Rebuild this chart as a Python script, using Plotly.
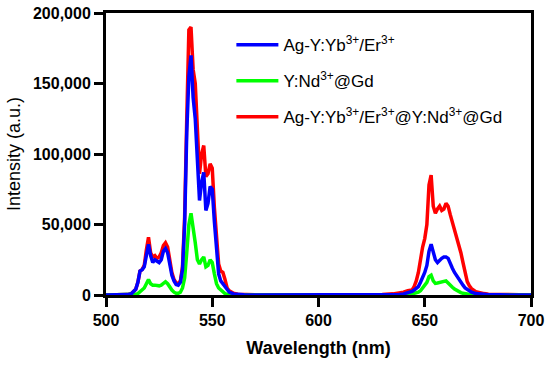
import plotly.graph_objects as go

wavelength = [500, 505, 510, 512, 514, 515, 516, 517, 518, 519, 520, 521, 522, 523, 524, 525,
              526, 527, 528, 529, 530, 531, 532, 533, 534, 535, 536, 537, 538, 539, 540, 541,
              542, 543, 544, 545, 546, 547, 548, 549, 550, 551, 552, 553, 554, 555, 556, 557,
              558, 560, 562, 565, 570, 580, 600, 620, 630, 635, 638, 640, 642, 644, 645, 646,
              647, 648, 649, 650, 651, 652, 653, 654, 655, 656, 657, 658, 659, 660, 661, 662,
              663, 664, 665, 666, 667, 668, 669, 670, 671, 672, 674, 676, 678, 680, 685, 690, 700]

# intensities in thousands (a.u.)
blue_k = [0, 0, 0.3, 1, 4, 9, 17, 18, 20, 28, 36, 28, 23, 25, 24, 23,
          25, 31, 33, 30, 22, 14, 10, 7.5, 7, 9, 18, 50, 115, 155, 170, 140,
          125, 95, 67, 80, 87, 60, 65, 77, 75, 52, 30, 15, 10, 8, 5, 3,
          2, 0.8, 0.4, 0.1, 0, 0, 0, 0, 0, 0.2, 0.4, 0.8, 1.5, 2.5, 3.5, 4.5,
          6, 9, 12, 16, 21, 31, 36, 31, 25, 23, 25, 26, 27, 27, 26, 22,
          19, 16, 13.5, 12, 9, 7, 5, 3.8, 2.8, 2, 1, 0.6, 0.3, 0.2, 0.1, 0, 0]

green_k = [0, 0, 0, 0.1, 0.5, 1, 2.5, 3.5, 5, 8, 11, 8, 7, 7, 6.5, 6.5,
           7, 8.5, 9.4, 8, 5.5, 3.5, 2, 1.2, 1.2, 2, 5, 12, 30, 50, 58, 45,
           37, 25, 22, 25, 27, 20, 21, 25, 23, 15, 8, 5, 3.5, 2.5, 1, 0.5,
           0.2, 0, 0, 0, 0, 0, 0, 0, 0, 0, 0, 0, 0.3, 0.7, 1, 1.5,
           2, 3, 5, 7.5, 9, 13, 14, 10, 8.3, 8.5, 8.8, 9.3, 10, 10, 8.5, 6.7,
           5.5, 4.3, 3.3, 2.4, 1.7, 1.2, 0.8, 0.5, 0.3, 0.2, 0.1, 0, 0, 0, 0, 0, 0]

red_k = [0, 0, 0.3, 1, 4, 9, 17, 18, 21, 32, 41, 30, 27, 28, 26, 27,
         30, 35, 37, 34, 25, 16, 11, 8.5, 8.3, 10, 20, 55, 125, 188, 190, 160,
         150, 110, 86, 100, 106, 84, 86, 93, 90, 62, 38, 22, 17, 16, 11, 5,
         3, 1.2, 0.6, 0.3, 0.1, 0, 0, 0, 0.3, 0.8, 1.3, 2, 3, 3.5, 6, 10,
         16, 27, 34, 40, 50, 78, 85, 63, 58, 61, 63, 60, 61, 65, 63, 57,
         52, 47, 41, 36, 30, 23, 16, 9.5, 6.5, 4.5, 2.3, 1.5, 1, 0.6, 0.3, 0.1, 0]

names = ["Ag-Y:Yb<sup>3+</sup>/Er<sup>3+</sup>",
         "Y:Nd<sup>3+</sup>@Gd",
         "Ag-Y:Yb<sup>3+</sup>/Er<sup>3+</sup>@Y:Nd<sup>3+</sup>@Gd"]
x_ticks = [500, 550, 600, 650, 700]
y_ticks = [0, 50000, 100000, 150000, 200000]

FONT = "Arial, Liberation Sans, sans-serif"

fig = go.Figure()
series = [(red_k, names[2], "#FF0000", 3),
          (green_k, names[1], "#00FF00", 2),
          (blue_k, names[0], "#0000FF", 1)]
for vals, nm, col, rank in series:
    fig.add_trace(go.Scatter(
        x=wavelength, y=[v * 1000 for v in vals], mode="lines", name=nm,
        line=dict(color=col, width=3.5), legendrank=rank, legendgroup=nm))

axis_common = dict(showline=True, linecolor="black", linewidth=3, mirror=True,
                   ticks="outside", ticklen=9, tickwidth=3, tickcolor="black",
                   showgrid=False, zeroline=False, layer="below traces",
                   automargin=False,
                   tickfont=dict(family=FONT, size=16, color="black", weight="bold"))

fig.update_xaxes(range=[500, 700], tickvals=x_ticks,
                 title=dict(text="Wavelength (nm)", standoff=14,
                            font=dict(family=FONT, size=18, color="black", weight="bold")),
                 **axis_common)
fig.update_yaxes(range=[0, 200000], tickvals=y_ticks, tickformat=",",
                 title=dict(text="Intensity (a.u.)", standoff=8,
                            font=dict(family=FONT, size=18, color="black")),
                 **axis_common)

fig.update_layout(
    width=550, height=369,
    margin=dict(l=106, r=19, t=13, b=74),
    plot_bgcolor="white", paper_bgcolor="white",
    showlegend=True,
    legend=dict(x=0.295, y=0.95, xanchor="left", yanchor="top",
                bgcolor="rgba(0,0,0,0)", tracegroupgap=11, itemwidth=42,
                font=dict(family=FONT, size=17, color="black")),
)

fig.write_html("out.html", config={"displayModeBar": False},
               post_script="document.body.style.margin='0';document.body.style.padding='0';")
